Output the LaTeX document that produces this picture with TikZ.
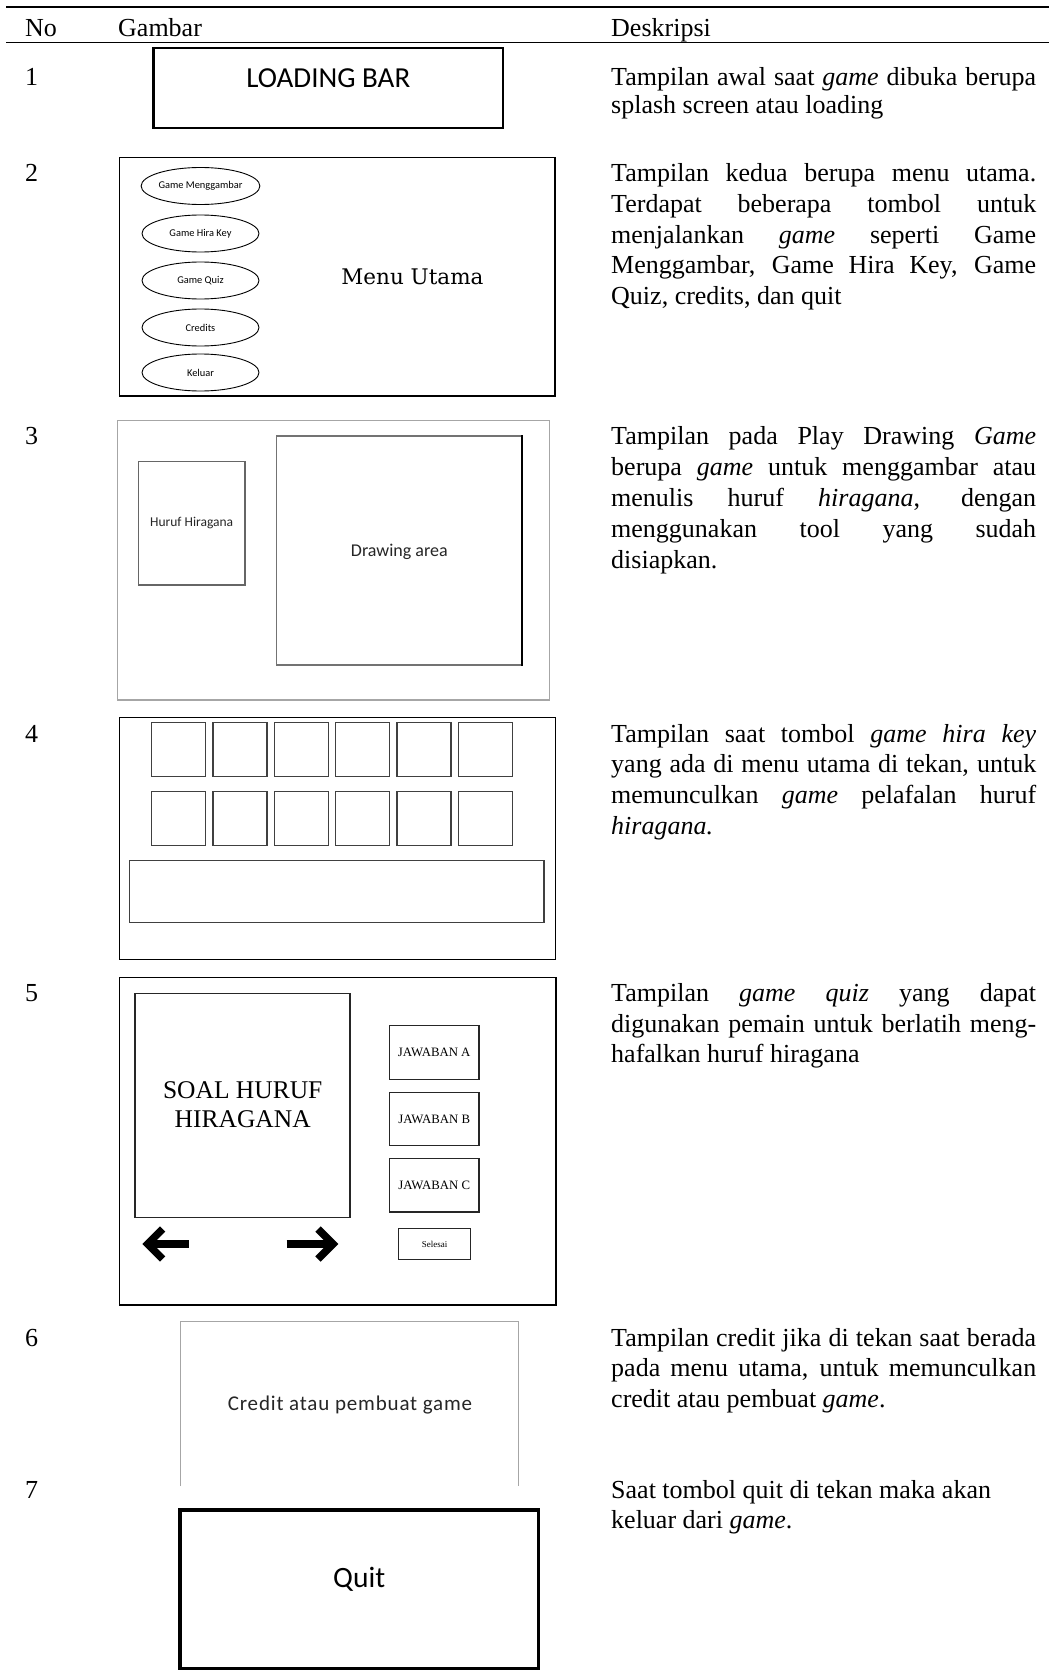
\documentclass[tikz,border=0pt]{standalone}
\usepackage{fontspec}
\setmainfont{Liberation Serif}
\newfontfamily\calibrifont{Carlito}
\newfontfamily\calibriwide{Carlito}[LetterSpace=4]
\newfontfamily\cambriafont{DejaVu Serif}
\usetikzlibrary{shapes.geometric}
\newcommand\jline[1]{\makebox[425pt][s]{#1}}
\begin{document}
\begin{tikzpicture}[x=1pt,y=-1pt,
  desc/.style={anchor=base west, inner sep=0pt, font=\fontsize{26}{30}\selectfont},
  frame/.style={draw=black, line width=1.2pt},
  lightframe/.style={draw=black!35, line width=1.4pt},
  keybox/.style={draw=black!75, line width=1.4pt},
  menubtn/.style={draw, ellipse, line width=0.9pt, minimum width=117pt, minimum height=37pt, inner sep=0pt, font=\calibrifont\fontsize{10.4}{12}\selectfont},
  ansbox/.style={draw=black!85, line width=1.2pt, minimum width=89.7pt, minimum height=53.6pt, inner sep=0pt, font=\fontsize{12.8}{14}\selectfont},
  arrowline/.style={line width=7.5pt, line join=miter, line cap=butt}
]
\fill[white] (0,0) rectangle (1053,1672);
\useasboundingbox (0,0) rectangle (1053,1672);

% header rules
\draw[line width=2pt] (6,7.5) -- (1049,7.5);
\draw[line width=1.3pt] (6,42.6) -- (1049,42.6);
\node[desc] (hno) at (25,37) {No};
\node[desc] (hgb) at (118,37) {Gambar};
\node[desc] (hds) at (611,37) {Deskripsi};

% numbers
\node[desc] (n1) at (25,86) {1};
\node[desc] (n2) at (25,182) {2};
\node[desc] (n3) at (25,444) {3};
\node[desc] (n4) at (25,742) {4};
\node[desc] (n5) at (25,1001.5) {5};
\node[desc] (n6) at (25,1346) {6};
\node[desc] (n7) at (25,1498) {7};

% descriptions
\node[desc] (d1a) at (611,86) {\jline{Tampilan awal saat \textit{game} dibuka berupa}};
\node[desc] (d1b) at (611,113.5) {splash screen atau loading};

\node[desc] (d2a) at (611,182) {\jline{Tampilan kedua berupa menu utama.}};
\node[desc] (d2b) at (611,212.5) {\jline{Terdapat beberapa tombol untuk}};
\node[desc] (d2c) at (611,243) {\jline{menjalankan \textit{game} seperti Game}};
\node[desc] (d2d) at (611,273.5) {\jline{Menggambar, Game Hira Key, Game}};
\node[desc] (d2e) at (611,304) {Quiz, credits, dan quit};

\node[desc] (d3a) at (611,444) {\jline{Tampilan pada Play Drawing \textit{Game}}};
\node[desc] (d3b) at (611,475) {\jline{berupa \textit{game} untuk menggambar atau}};
\node[desc] (d3c) at (611,506) {\jline{menulis huruf \textit{hiragana}, dengan}};
\node[desc] (d3d) at (611,537) {\jline{menggunakan tool yang sudah}};
\node[desc] (d3e) at (611,568) {disiapkan.};

\node[desc] (d4a) at (611,742) {\jline{Tampilan saat tombol \textit{game hira key}}};
\node[desc] (d4b) at (611,772.7) {\jline{yang ada di menu utama di tekan, untuk}};
\node[desc] (d4c) at (611,803.4) {\jline{memunculkan \textit{game} pelafalan huruf}};
\node[desc] (d4d) at (611,834.1) {\textit{hiragana.}};

\node[desc] (d5a) at (611,1001.5) {\jline{Tampilan \textit{game quiz} yang dapat}};
\node[desc] (d5b) at (611,1032) {\jline{digunakan pemain untuk berlatih meng-}};
\node[desc] (d5c) at (611,1062.5) {hafalkan huruf hiragana};

\node[desc] (d6a) at (611,1346) {\jline{Tampilan credit jika di tekan saat berada}};
\node[desc] (d6b) at (611,1376.5) {\jline{pada menu utama, untuk memunculkan}};
\node[desc] (d6c) at (611,1407) {credit atau pembuat \textit{game}.};

\node[desc] (d7a) at (611,1498) {Saat tombol quit di tekan maka akan};
\node[desc] (d7b) at (611,1528.5) {keluar dari \textit{game}.};

% ---- 1: loading
\draw[line width=2.5pt] (153.5,48) rectangle (503,128);
\node[inner sep=0pt, font=\calibrifont\fontsize{29}{32}\selectfont] (load) at (328.25,78) {LOADING BAR};

% ---- 2: menu utama
\draw[frame] (119.3,157.5) rectangle (555,396);
\node[menubtn] (b1) at (200.5,186) {Game Menggambar};
\node[menubtn] (b2) at (200.5,233.5) {Game Hira Key};
\node[menubtn] (b3) at (200.5,280.5) {Game Quiz};
\node[menubtn] (b4) at (200.5,327.5) {Credits};
\node[menubtn] (b5) at (200.5,372.5) {Keluar};
\node[inner sep=0pt, font=\cambriafont\fontsize{21.5}{24}\selectfont] (menu) at (412.5,276.5) {Menu Utama};

% ---- 3: drawing
\draw[lightframe] (117.5,420.5) rectangle (549.5,700);
\draw[draw=black!60, line width=1.3pt] (138.3,461.7) rectangle (245,585);
\draw[draw=black!55, line width=1.3pt] (521.7,436) -- (276.7,436) -- (276.7,665) -- (521.7,665);
\draw[line width=2pt] (521.7,435) -- (521.7,666);
\node[inner sep=0pt, text=black!85, font=\calibrifont\fontsize{13.5}{15}\selectfont] (huruf) at (191.7,523.3) {Huruf Hiragana};
\node[inner sep=0pt, text=black!85, font=\calibrifont\fontsize{18}{20}\selectfont] (draw) at (399.3,551.5) {Drawing area};

% ---- 4: hira key
\draw[frame] (119.3,717.3) rectangle (555.7,959.3);
\foreach \i in {0,...,5} {
  \draw[keybox] ({151.7+61.3*\i},722.7) rectangle +(54,54);
  \draw[keybox] ({151.7+61.3*\i},791.3) rectangle +(54,54);
}
\draw[keybox] (129.3,860.3) rectangle (544,922.3);

% ---- 5: quiz
\draw[frame] (119.3,977.7) rectangle (556,1305);
\draw[draw=black!85, line width=1.2pt] (135,993.3) rectangle (350,1217.3);
\node[anchor=base, inner sep=0pt, font=\fontsize{25.5}{29}\selectfont] (soal1) at (242.7,1098.3) {SOAL HURUF};
\node[anchor=base, inner sep=0pt, font=\fontsize{25.5}{29}\selectfont] (soal2) at (242.7,1127.3) {HIRAGANA};
\node[ansbox] (ja) at (434.2,1052.5) {JAWABAN A};
\node[ansbox] (jb) at (434.2,1118.9) {JAWABAN B};
\node[ansbox] (jc) at (434.2,1185.2) {JAWABAN C};
\node[draw=black!85, line width=1.2pt, minimum width=71.6pt, minimum height=30.6pt, inner sep=0pt, font=\fontsize{9}{10}\selectfont] (sel) at (434.5,1244) {Selesai};
\draw[arrowline] (162.6,1229) -- (147.6,1244) -- (162.6,1259);
\draw[arrowline] (147.6,1244) -- (189.3,1244);
\draw[arrowline] (318,1229) -- (333,1244) -- (318,1259);
\draw[arrowline] (286.7,1244) -- (333,1244);

% ---- 6: credit
\draw[draw=black!35, line width=1.3pt] (180.7,1486) -- (180.7,1321.7) -- (518.3,1321.7) -- (518.3,1486);
\node[inner sep=0pt, text=black!85, font=\calibriwide\fontsize{21}{24}\selectfont] (credit) at (350,1405) {Credit atau pembuat game};

% ---- 7: quit
\draw[line width=3.3pt] (180,1510) rectangle (538.3,1668.3);
\node[anchor=base, inner sep=0pt, font=\calibrifont\fontsize{29.5}{32}\selectfont] (quit) at (359.2,1587) {Quit};
\end{tikzpicture}
\end{document}
